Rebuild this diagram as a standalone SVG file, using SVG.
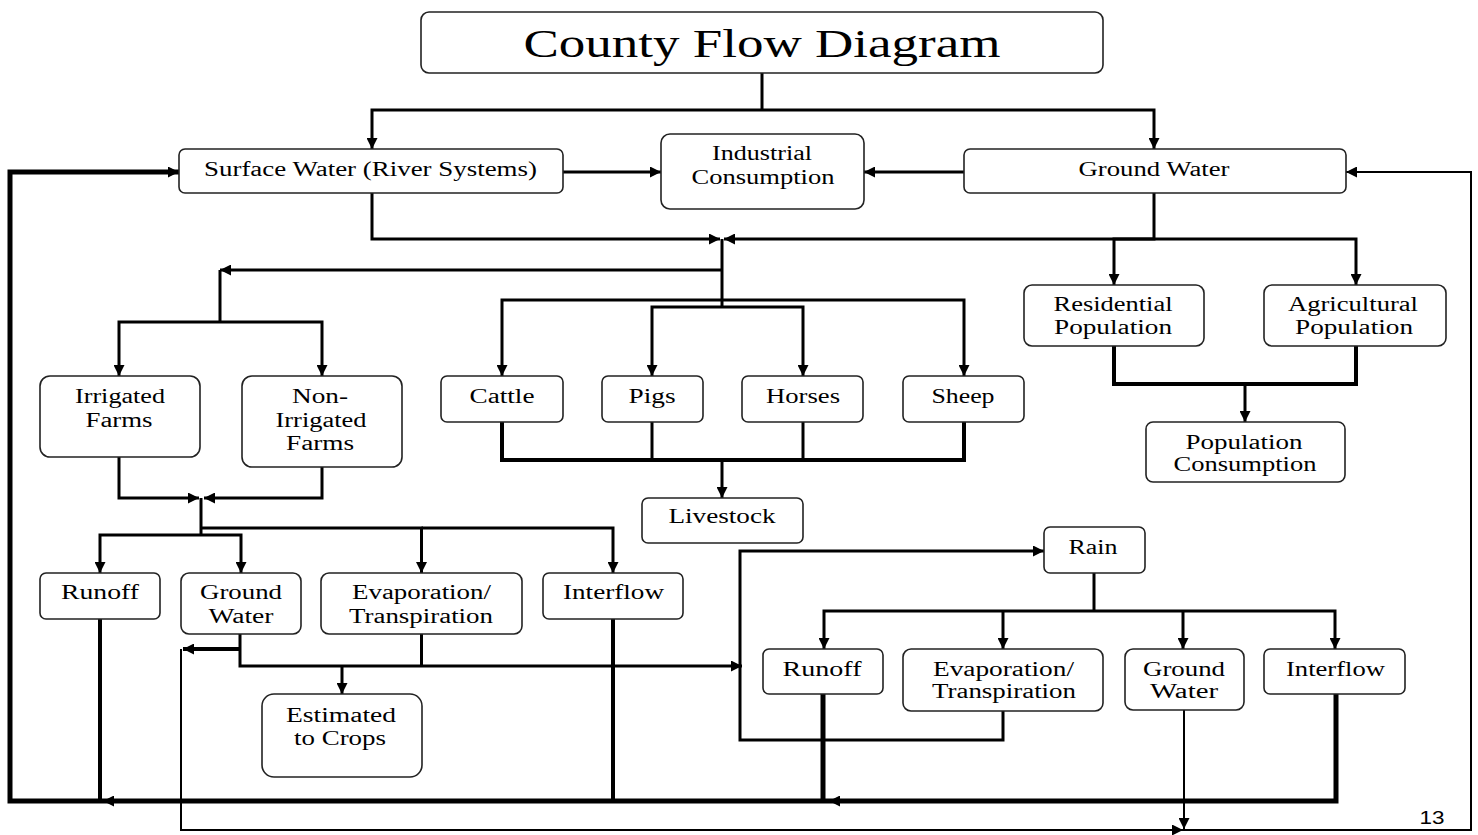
<svg xmlns="http://www.w3.org/2000/svg" width="1478" height="835" viewBox="0 0 1478 835">
<style>
.box{fill:#fff;stroke:#222;stroke-width:1.6}
.t{font-family:"Liberation Serif","Times New Roman",serif;font-size:20px;text-anchor:middle;fill:#000}
.c{fill:none;stroke:#000;stroke-width:3}
.k{stroke-width:5}
.m{stroke-width:4}
.n{stroke-width:2}
</style>
<defs>
<marker id="a" markerUnits="userSpaceOnUse" markerWidth="12" markerHeight="11" refX="11" refY="5.5" orient="auto"><path d="M0,0 L11,5.5 L0,11 z" fill="#000"/></marker>
</defs>
<rect width="1478" height="835" fill="#fff"/>
<g id="connectors">
<path class="c" d="M762 73 V110"/>
<path class="c" d="M762 110 H372 V149" marker-end="url(#a)"/>
<path class="c" d="M762 110 H1154 V149" marker-end="url(#a)"/>
<path class="c" d="M563 172 H661" marker-end="url(#a)"/>
<path class="c" d="M964 172 H864" marker-end="url(#a)"/>
<path class="c" d="M372 193 V239 H720" marker-end="url(#a)"/>
<path class="c" d="M1154 193 V239 H724" marker-end="url(#a)"/>
<path class="c" d="M1154 239 H1114 V285" marker-end="url(#a)"/>
<path class="c" d="M1154 239 H1356 V285" marker-end="url(#a)"/>
<path class="c" d="M722 239 V307"/>
<path class="c" d="M722 270 H220" marker-end="url(#a)"/>
<path class="c" d="M220 270 V322"/>
<path class="c" d="M220 322 H119 V376" marker-end="url(#a)"/>
<path class="c" d="M220 322 H322 V376" marker-end="url(#a)"/>
<path class="c" d="M722 300 H502 V376" marker-end="url(#a)"/>
<path class="c" d="M722 300 H964 V376" marker-end="url(#a)"/>
<path class="c" d="M722 307 H652 V376" marker-end="url(#a)"/>
<path class="c" d="M722 307 H803 V376" marker-end="url(#a)"/>
<path class="c m" d="M502 422 V460 H964 V422"/>
<path class="c" d="M652 422 V460"/>
<path class="c" d="M803 422 V460"/>
<path class="c" d="M722 460 V498" marker-end="url(#a)"/>
<path class="c m" d="M1114 346 V384 H1356 V346"/>
<path class="c" d="M1245 384 V422" marker-end="url(#a)"/>
<path class="c" d="M119 457 V498 H199" marker-end="url(#a)"/>
<path class="c" d="M322 467 V498 H204" marker-end="url(#a)"/>
<path class="c" d="M201 498 V535"/>
<path class="c" d="M201 528 H421.5 V573" marker-end="url(#a)"/>
<path class="c" d="M421.5 528 H613 V573" marker-end="url(#a)"/>
<path class="c" d="M201 535 H100 V573" marker-end="url(#a)"/>
<path class="c" d="M201 535 H241 V573" marker-end="url(#a)"/>
<path class="c m" d="M100 619 V801"/>
<path class="c m" d="M613 619 V801"/>
<path class="c k" d="M823 694 V801"/>
<path class="c k" d="M1336 694 V801 H10 V172 H179" marker-end="url(#a)"/>
<path class="c" d="M130 801 H103" marker-end="url(#a)"/>
<path class="c" d="M856 801 H829" marker-end="url(#a)"/>
<path class="c" d="M240 634 V666 H742" marker-end="url(#a)"/>
<path class="c" d="M421.5 634 V666"/>
<path class="c" d="M342 666 V694" marker-end="url(#a)"/>
<path class="c m" d="M240 649 H183" marker-end="url(#a)"/>
<path class="c n" d="M181 649 V830 H1471 V172 H1346" marker-end="url(#a)"/>
<path class="c n" d="M1160 830 H1183" marker-end="url(#a)"/>
<path class="c n" d="M1184 710 V829" marker-end="url(#a)"/>
<path class="c" d="M1003 711 V740 H740 V551 H1044" marker-end="url(#a)"/>
<path class="c" d="M1094 573 V611"/>
<path class="c" d="M1094 611 H824 V649" marker-end="url(#a)"/>
<path class="c" d="M1003 611 V649" marker-end="url(#a)"/>
<path class="c" d="M1094 611 H1335 V649" marker-end="url(#a)"/>
<path class="c" d="M1183 611 V649" marker-end="url(#a)"/>
</g>
<g id="title"><rect class="box" x="421" y="12" width="682" height="61" rx="8"/><text class="t" x="762" y="57" font-size="41" style="font-size:41px" textLength="477" lengthAdjust="spacingAndGlyphs">County Flow Diagram</text></g>
<g id="surface-water"><rect class="box" x="179" y="149" width="384" height="44" rx="6"/><text class="t" x="370.5" y="176" textLength="333" lengthAdjust="spacingAndGlyphs">Surface Water (River Systems)</text></g>
<g id="industrial"><rect class="box" x="661" y="134" width="203" height="75" rx="9"/><text class="t" x="762" y="160" textLength="100" lengthAdjust="spacingAndGlyphs">Industrial</text><text class="t" x="763" y="184" textLength="143" lengthAdjust="spacingAndGlyphs">Consumption</text></g>
<g id="ground-water"><rect class="box" x="964" y="149" width="382" height="44" rx="6"/><text class="t" x="1154" y="176" textLength="151" lengthAdjust="spacingAndGlyphs">Ground Water</text></g>
<g id="irrigated"><rect class="box" x="40" y="376" width="160" height="81" rx="10"/><text class="t" x="120" y="403" textLength="90" lengthAdjust="spacingAndGlyphs">Irrigated</text><text class="t" x="119" y="427" textLength="67" lengthAdjust="spacingAndGlyphs">Farms</text></g>
<g id="non-irrigated"><rect class="box" x="242" y="376" width="160" height="91" rx="10"/><text class="t" x="320" y="403" textLength="56" lengthAdjust="spacingAndGlyphs">Non-</text><text class="t" x="321" y="427" textLength="91" lengthAdjust="spacingAndGlyphs">Irrigated</text><text class="t" x="320" y="450" textLength="68" lengthAdjust="spacingAndGlyphs">Farms</text></g>
<g id="cattle"><rect class="box" x="441" y="376" width="122" height="46" rx="6"/><text class="t" x="502" y="403" textLength="65" lengthAdjust="spacingAndGlyphs">Cattle</text></g>
<g id="pigs"><rect class="box" x="602" y="376" width="101" height="46" rx="6"/><text class="t" x="652" y="403" textLength="47" lengthAdjust="spacingAndGlyphs">Pigs</text></g>
<g id="horses"><rect class="box" x="742" y="376" width="121" height="46" rx="6"/><text class="t" x="803" y="403" textLength="74" lengthAdjust="spacingAndGlyphs">Horses</text></g>
<g id="sheep"><rect class="box" x="903" y="376" width="121" height="46" rx="6"/><text class="t" x="963" y="403" textLength="63" lengthAdjust="spacingAndGlyphs">Sheep</text></g>
<g id="residential"><rect class="box" x="1024" y="285" width="180" height="61" rx="8"/><text class="t" x="1113" y="311" textLength="119" lengthAdjust="spacingAndGlyphs">Residential</text><text class="t" x="1113" y="334" textLength="118" lengthAdjust="spacingAndGlyphs">Population</text></g>
<g id="agricultural"><rect class="box" x="1264" y="285" width="182" height="61" rx="8"/><text class="t" x="1353" y="311" textLength="130" lengthAdjust="spacingAndGlyphs">Agricultural</text><text class="t" x="1354" y="334" textLength="118" lengthAdjust="spacingAndGlyphs">Population</text></g>
<g id="population-consumption"><rect class="box" x="1146" y="422" width="199" height="60" rx="7"/><text class="t" x="1244" y="449" textLength="117" lengthAdjust="spacingAndGlyphs">Population</text><text class="t" x="1245" y="471" textLength="143" lengthAdjust="spacingAndGlyphs">Consumption</text></g>
<g id="livestock"><rect class="box" x="642" y="498" width="161" height="45" rx="6"/><text class="t" x="722" y="523" textLength="107" lengthAdjust="spacingAndGlyphs">Livestock</text></g>
<g id="runoff-left"><rect class="box" x="40" y="573" width="120" height="46" rx="6"/><text class="t" x="100" y="599" textLength="78" lengthAdjust="spacingAndGlyphs">Runoff</text></g>
<g id="ground-water-left"><rect class="box" x="181" y="573" width="120" height="61" rx="8"/><text class="t" x="241" y="599" textLength="82" lengthAdjust="spacingAndGlyphs">Ground</text><text class="t" x="241" y="623" textLength="65" lengthAdjust="spacingAndGlyphs">Water</text></g>
<g id="evaporation-left"><rect class="box" x="321" y="573" width="201" height="61" rx="8"/><text class="t" x="421.5" y="599" textLength="139" lengthAdjust="spacingAndGlyphs">Evaporation/</text><text class="t" x="421" y="623" textLength="144" lengthAdjust="spacingAndGlyphs">Transpiration</text></g>
<g id="interflow-left"><rect class="box" x="543" y="573" width="140" height="46" rx="6"/><text class="t" x="613.5" y="599" textLength="101" lengthAdjust="spacingAndGlyphs">Interflow</text></g>
<g id="estimated-crops"><rect class="box" x="262" y="694" width="160" height="83" rx="12"/><text class="t" x="341" y="722" textLength="110" lengthAdjust="spacingAndGlyphs">Estimated</text><text class="t" x="340" y="745" textLength="92" lengthAdjust="spacingAndGlyphs">to Crops</text></g>
<g id="rain"><rect class="box" x="1044" y="527" width="101" height="46" rx="6"/><text class="t" x="1093" y="554" textLength="49" lengthAdjust="spacingAndGlyphs">Rain</text></g>
<g id="runoff-right"><rect class="box" x="763" y="649" width="120" height="45" rx="6"/><text class="t" x="822" y="676" textLength="79" lengthAdjust="spacingAndGlyphs">Runoff</text></g>
<g id="evaporation-right"><rect class="box" x="903" y="649" width="200" height="62" rx="8"/><text class="t" x="1003.5" y="676" textLength="141" lengthAdjust="spacingAndGlyphs">Evaporation/</text><text class="t" x="1004" y="698" textLength="144" lengthAdjust="spacingAndGlyphs">Transpiration</text></g>
<g id="ground-water-right"><rect class="box" x="1125" y="649" width="119" height="61" rx="8"/><text class="t" x="1184" y="676" textLength="82" lengthAdjust="spacingAndGlyphs">Ground</text><text class="t" x="1184" y="698" textLength="68" lengthAdjust="spacingAndGlyphs">Water</text></g>
<g id="interflow-right"><rect class="box" x="1264" y="649" width="141" height="45" rx="6"/><text class="t" x="1335.5" y="676" textLength="99" lengthAdjust="spacingAndGlyphs">Interflow</text></g>
<text x="1432" y="824" font-family="'Liberation Sans',Arial,sans-serif" font-size="18" text-anchor="middle" textLength="25" lengthAdjust="spacingAndGlyphs">13</text>
</svg>
